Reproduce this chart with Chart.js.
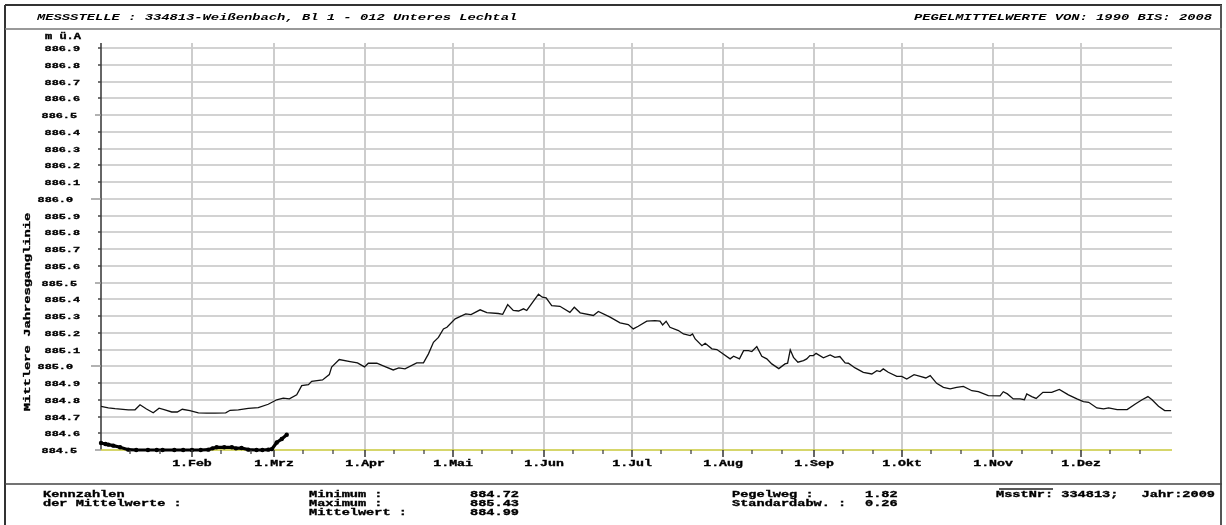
<!DOCTYPE html>
<html lang="de">
<head>
<meta charset="utf-8">
<title>Mittlere Jahresganglinie 334813 Weißenbach</title>
<script src="https://cdn.jsdelivr.net/npm/chart.js@4.4.1/dist/chart.umd.min.js"></script>
<style>
  html, body { margin: 0; padding: 0; background: #fff; }
  #wrap { position: relative; width: 1226px; height: 525px; }
</style>
</head>
<body>
<div id="wrap"><canvas id="chart"></canvas></div>
<script>
// Day of year (0 = 1. Jan) and mean groundwater level 1990–2008, m ü.A
const meanDays = [0, 2.5, 4.8, 9.3, 11.6, 13.3, 15.5, 17.8, 19.8, 21.8, 24.1, 26.0, 27.7, 30.3, 33.2, 36.0, 38.9, 42.5, 44.0, 46.8, 50.2, 53.6, 57.0, 59.9, 62.1, 64.2, 66.7, 68.4, 70.7, 71.8, 75.5, 77.8, 78.6, 81.2, 84.9, 87.4, 89.8, 91.1, 94.0, 96.8, 99.6, 101.5, 103.6, 107.6, 109.9, 111.6, 113.3, 115.0, 116.7, 117.9, 120.7, 124.3, 126.1, 129.2, 131.5, 135.4, 136.9, 138.6, 140.5, 142.3, 144.0, 145.1, 149.1, 150.4, 151.7, 153.6, 156.4, 159.8, 161.3, 163.3, 167.8, 169.5, 173.5, 176.9, 179.7, 181.4, 183.1, 186.0, 188.8, 190.5, 191.4, 192.6, 193.9, 196.8, 198.5, 200.8, 201.6, 202.5, 204.8, 205.9, 208.2, 209.9, 214.4, 215.6, 217.6, 219.0, 220.7, 221.8, 223.5, 225.2, 226.9, 228.6, 231.0, 233.1, 234.0, 234.9, 236.0, 237.5, 239.4, 240.5, 241.6, 242.8, 243.7, 246.2, 248.5, 250.1, 251.8, 253.6, 254.7, 257.0, 259.8, 262.7, 264.4, 265.5, 266.6, 268.3, 271.2, 272.9, 274.6, 277.1, 279.2, 281.1, 282.6, 284.8, 287.1, 289.4, 291.6, 293.9, 296.8, 299.0, 302.4, 306.4, 307.5, 308.9, 310.9, 313.2, 314.7, 315.5, 317.2, 318.7, 321.0, 324.0, 326.6, 329.7, 332.6, 334.8, 336.6, 339.4, 341.7, 343.4, 346.3, 349.7, 352.5, 354.8, 356.8, 358.2, 360.4, 362.5, 364.7];
const meanLevels = [884.760, 884.752, 884.747, 884.740, 884.740, 884.770, 884.745, 884.722, 884.750, 884.740, 884.727, 884.727, 884.743, 884.735, 884.722, 884.720, 884.720, 884.722, 884.737, 884.740, 884.748, 884.753, 884.773, 884.800, 884.810, 884.805, 884.830, 884.884, 884.890, 884.910, 884.918, 884.950, 884.995, 885.040, 885.028, 885.020, 884.996, 885.018, 885.018, 884.998, 884.978, 884.990, 884.984, 885.020, 885.021, 885.074, 885.143, 885.172, 885.223, 885.233, 885.283, 885.313, 885.308, 885.337, 885.320, 885.315, 885.310, 885.368, 885.333, 885.330, 885.343, 885.333, 885.430, 885.412, 885.408, 885.362, 885.358, 885.322, 885.352, 885.319, 885.303, 885.327, 885.293, 885.259, 885.249, 885.223, 885.239, 885.269, 885.273, 885.269, 885.247, 885.269, 885.233, 885.213, 885.193, 885.183, 885.193, 885.163, 885.123, 885.137, 885.104, 885.100, 885.044, 885.060, 885.044, 885.093, 885.093, 885.088, 885.117, 885.060, 885.044, 885.014, 884.986, 885.014, 885.018, 885.098, 885.053, 885.024, 885.034, 885.044, 885.064, 885.064, 885.077, 885.050, 885.068, 885.053, 885.058, 885.020, 885.018, 884.990, 884.964, 884.954, 884.974, 884.968, 884.984, 884.964, 884.940, 884.940, 884.924, 884.950, 884.940, 884.930, 884.944, 884.898, 884.874, 884.865, 884.874, 884.880, 884.854, 884.848, 884.825, 884.823, 884.848, 884.835, 884.805, 884.805, 884.800, 884.835, 884.819, 884.808, 884.844, 884.844, 884.862, 884.829, 884.805, 884.789, 884.785, 884.751, 884.745, 884.751, 884.741, 884.741, 884.775, 884.800, 884.819, 884.800, 884.761, 884.735, 884.735];

// Levels measured in 2009 (day of year, m ü.A)
const days2009 = [0, 1.5, 2.5, 4.2, 6.5, 9.3, 12, 16, 19, 21, 25, 28, 31, 34, 36.6, 38, 39.4, 42, 44.6, 46, 47.9, 50.2, 53, 55, 57, 58.2, 59.9, 61.6, 63.3];
const levels2009 = [884.542, 884.536, 884.532, 884.526, 884.516, 884.502, 884.500, 884.500, 884.500, 884.500, 884.500, 884.500, 884.500, 884.500, 884.502, 884.510, 884.516, 884.516, 884.516, 884.510, 884.512, 884.502, 884.500, 884.500, 884.502, 884.505, 884.545, 884.566, 884.591];

// Axis ticks
const monthStartDays = [31, 59, 90, 120, 151, 181, 212, 243, 273, 304, 334];
const monthLabels = ['1.Feb', '1.Mrz', '1.Apr', '1.Mai', '1.Jun', '1.Jul', '1.Aug', '1.Sep', '1.Okt', '1.Nov', '1.Dez'];
const allMonthStarts = [0, 31, 59, 90, 120, 151, 181, 212, 243, 273, 304, 334];
const yTickLabels = ['884.5', '884.6', '884.7', '884.8', '884.9', '885.0', '885.1', '885.2', '885.3', '885.4', '885.5', '885.6', '885.7', '885.8', '885.9', '886.0', '886.1', '886.2', '886.3', '886.4', '886.5', '886.6', '886.7', '886.8', '886.9'];

// Key figures shown in the footer
const statMinimum = '884.72';
const statMaximum = '885.43';
const statMittelwert = '884.99';
const statPegelweg = '1.82';
const statStdAbw = '0.26';

const FONT = '"Liberation Mono", "Courier New", monospace';

function drawText(ctx, s, x, y, o = {}) {
  ctx.save();
  ctx.font = (o.italic ? 'italic ' : '') + 'bold ' + (o.size || 13.6) + 'px ' + FONT;
  ctx.textAlign = o.align || 'left';
  ctx.textBaseline = 'middle';
  ctx.fillStyle = o.color || '#000';
  ctx.translate(x, y);
  if (o.rotate) ctx.rotate(o.rotate);
  ctx.scale(1, o.sy || 0.68);
  ctx.fillText(s, 0, 0);
  if (o.heavy) { ctx.strokeStyle = o.color || '#000'; ctx.lineWidth = 0.5; ctx.strokeText(s, 0, 0); }
  ctx.restore();
}

function hLine(ctx, x1, x2, y, w, c) {
  ctx.save(); ctx.strokeStyle = c; ctx.lineWidth = w;
  ctx.beginPath(); ctx.moveTo(x1, y); ctx.lineTo(x2, y); ctx.stroke(); ctx.restore();
}
function vLine(ctx, x, y1, y2, w, c) {
  ctx.save(); ctx.strokeStyle = c; ctx.lineWidth = w;
  ctx.beginPath(); ctx.moveTo(x, y1); ctx.lineTo(x, y2); ctx.stroke(); ctx.restore();
}

const sheetPlugin = {
  id: 'sheet',
  beforeDraw(chart) {
    const ctx = chart.ctx;
    ctx.save(); ctx.fillStyle = '#fff'; ctx.fillRect(0, 0, chart.width, chart.height); ctx.restore();
  },
  beforeDatasetsDraw(chart) {
    // grid: every 0.1 m and every month start, placed through the chart scales
    const ctx = chart.ctx;
    const xs = chart.scales.x, ys = chart.scales.y;
    const area = chart.chartArea;
    yTickLabels.forEach((t) => {
      const v = parseFloat(t);
      if (v === ys.min) return;
      const y = Math.round(ys.getPixelForValue(v));
      hLine(ctx, area.left, area.right, y, 2, '#d2d2d2');
    });
    monthStartDays.forEach((d) => {
      const x = Math.round(xs.getPixelForValue(d));
      vLine(ctx, x, area.top, area.bottom, 2, '#cdcdcd');
    });
    // axis lines
    vLine(ctx, area.left, area.top, area.bottom, 1.5, '#333');
    hLine(ctx, area.left, area.right, area.bottom, 1.5, '#c8c83a');
  },
  afterDraw(chart) {
    const ctx = chart.ctx;
    const xs = chart.scales.x, ys = chart.scales.y;
    const area = chart.chartArea;

    // sheet frame
    hLine(ctx, 5, 1222, 5, 2, '#333');
    vLine(ctx, 5, 5, 525, 2, '#333');
    vLine(ctx, 1221, 5, 525, 2, '#555');
    hLine(ctx, 5, 1222, 29, 1.5, '#777');
    hLine(ctx, 5, 1222, 484, 1.5, '#444');

    // header
    drawText(ctx, 'MESSSTELLE : 334813-Weißenbach, Bl 1 - 012 Unteres Lechtal', 37, 18, { italic: true, size: 13.8 });
    drawText(ctx, 'PEGELMITTELWERTE VON: 1990 BIS: 2008', 1212, 18, { italic: true, size: 13.8, align: 'right' });

    // y unit and title
    drawText(ctx, 'm ü.A', 45, 37, { size: 12, heavy: true });
    drawText(ctx, 'Mittlere Jahresganglinie', 28, 312, { size: 13.8, rotate: -Math.PI / 2, align: 'center', heavy: true });

    // y ticks and labels
    yTickLabels.forEach((t) => {
      const v = parseFloat(t);
      const y = Math.round(ys.getPixelForValue(v));
      const tenth = Math.round(v * 10);
      let len = 3, col = '#444', right = 80;
      if (tenth % 10 === 0) { len = 10; col = '#999'; right = 73; }
      else if (tenth % 5 === 0) { len = 6; col = '#999'; right = 77; }
      hLine(ctx, area.left - len, area.left, y, 1.5, col);
      drawText(ctx, t, right, y + 0.5, { size: 11.8, align: 'right', heavy: true });
    });

    // x ticks: month starts long, days 11 and 21 short
    const yb = area.bottom;
    allMonthStarts.forEach((d, i) => {
      const x = Math.round(xs.getPixelForValue(d));
      if (i > 0) vLine(ctx, x, yb, yb + 7, 1.5, '#333');
      [10, 20].forEach((off) => {
        const xx = Math.round(xs.getPixelForValue(d + off));
        vLine(ctx, xx, yb, yb + 4, 1.2, '#333');
      });
    });
    monthStartDays.forEach((d, i) => {
      drawText(ctx, monthLabels[i], xs.getPixelForValue(d), 464, { size: 13.2, align: 'center', heavy: true });
    });

    // footer key figures
    const r1 = 495, r2 = 504, r3 = 513;
    const f = { heavy: true };
    drawText(ctx, 'Kennzahlen', 43, r1, f);
    drawText(ctx, 'der Mittelwerte :', 43, r2, f);
    drawText(ctx, 'Minimum :', 309, r1, f);
    drawText(ctx, 'Maximum :', 309, r2, f);
    drawText(ctx, 'Mittelwert :', 309, r3, f);
    drawText(ctx, statMinimum, 470, r1, f);
    drawText(ctx, statMaximum, 470, r2, f);
    drawText(ctx, statMittelwert, 470, r3, f);
    drawText(ctx, 'Pegelweg :', 732, r1, f);
    drawText(ctx, 'Standardabw. :', 732, r2, f);
    drawText(ctx, statPegelweg, 865, r1, f);
    drawText(ctx, statStdAbw, 865, r2, f);
    hLine(ctx, 999, 1053, 489, 1.5, '#222');
    drawText(ctx, 'MsstNr: 334813;', 996, r1, f);
    drawText(ctx, 'Jahr:2009', 1215, r1, { align: 'right', heavy: true });
  }
};

const meanPoints = meanDays.map((d, i) => ({ x: d, y: meanLevels[i] }));
const points2009 = days2009.map((d, i) => ({ x: d, y: levels2009[i] }));

new Chart(document.getElementById('chart'), {
  type: 'line',
  data: {
    datasets: [
      {
        label: 'Jahr 2009',
        data: points2009,
        borderColor: '#000',
        backgroundColor: '#000',
        borderWidth: 3.2,
        pointRadius: 2.2,
        pointBorderWidth: 0,
        tension: 0,
        clip: false
      },
      {
        label: 'Mittelwert 1990–2008',
        data: meanPoints,
        borderColor: '#111',
        borderWidth: 1.3,
        pointRadius: 0,
        tension: 0
      }
    ]
  },
  options: {
    responsive: true,
    maintainAspectRatio: false,
    animation: false,
    devicePixelRatio: 1,
    layout: { padding: { left: 101, right: 54, top: 43, bottom: 75 } },
    plugins: { legend: { display: false }, tooltip: { enabled: false } },
    scales: {
      x: {
        type: 'linear',
        display: false,
        min: 0,
        max: 365,
        afterBuildTicks: (s) => { s.ticks = monthStartDays.map((v) => ({ value: v })); }
      },
      y: {
        type: 'linear',
        display: false,
        min: 884.5,
        max: 886.93,
        afterBuildTicks: (s) => { s.ticks = yTickLabels.map((t) => ({ value: parseFloat(t) })); }
      }
    }
  },
  plugins: [sheetPlugin]
});
</script>
</body>
</html>
